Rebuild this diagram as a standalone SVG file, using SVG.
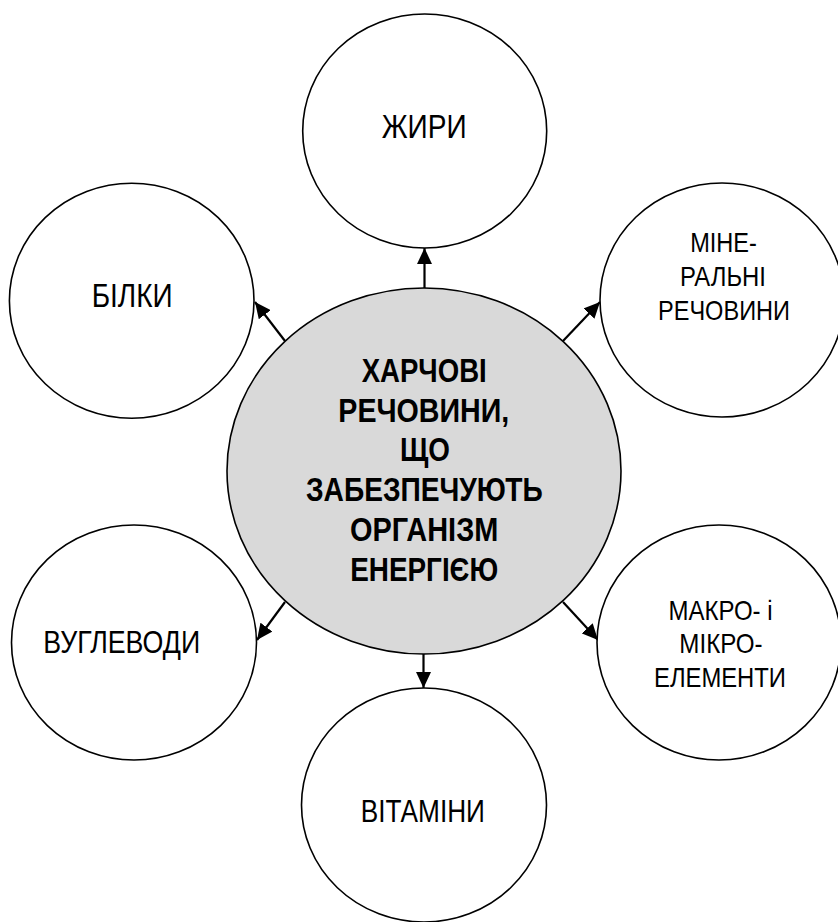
<svg xmlns="http://www.w3.org/2000/svg" width="838" height="922" viewBox="0 0 838 922">
<style>
.node{fill:#ffffff;stroke:#000000;stroke-width:1.6}
.center{fill:#d9d9d9;stroke:#000000;stroke-width:1.6}
.lbl{font-family:"Liberation Sans Narrow","Liberation Sans",Arial,sans-serif;fill:#000000;text-anchor:middle}
.b{font-weight:bold;font-size:33px}
.edge{stroke:#000000;stroke-width:2.2;fill:none;marker-end:url(#ah)}
</style>
<defs>
<marker id="ah" markerUnits="userSpaceOnUse" markerWidth="16" markerHeight="15" refX="16" refY="7.5" orient="auto" viewBox="0 0 16 15">
<path d="M0,0 L16,7.5 L0,15 z" fill="#000000"/>
</marker>
</defs>
<rect width="838" height="922" fill="#ffffff"/>
<g id="connectors">
<line class="edge" x1="424.5" y1="289" x2="424.5" y2="248"/>
<line class="edge" x1="423.5" y1="654" x2="423.5" y2="688"/>
<line class="edge" x1="285" y1="341" x2="255" y2="302"/>
<line class="edge" x1="563" y1="341" x2="600" y2="302"/>
<line class="edge" x1="285" y1="602" x2="257" y2="640"/>
<line class="edge" x1="563" y1="602" x2="598" y2="640"/>
</g>
<g id="node-center">
<ellipse class="center" cx="424" cy="471" rx="197" ry="183"/>
<text class="lbl b" x="424.2" y="381.7" textLength="125" lengthAdjust="spacingAndGlyphs">ХАРЧОВІ</text>
<text class="lbl b" x="423.8" y="421.7" textLength="171" lengthAdjust="spacingAndGlyphs">РЕЧОВИНИ,</text>
<text class="lbl b" x="425" y="460.5" textLength="50" lengthAdjust="spacingAndGlyphs">ЩО</text>
<text class="lbl b" x="424.3" y="500.7" textLength="236.7" lengthAdjust="spacingAndGlyphs">ЗАБЕЗПЕЧУЮТЬ</text>
<text class="lbl b" x="424.2" y="540.5" textLength="148.3" lengthAdjust="spacingAndGlyphs">ОРГАНІЗМ</text>
<text class="lbl b" x="424.2" y="580.7" textLength="148" lengthAdjust="spacingAndGlyphs">ЕНЕРГІЄЮ</text>
</g>
<g id="node-zhyry">
<ellipse class="node" cx="424.7" cy="131" rx="122" ry="117"/>
<text class="lbl" style="font-size:32.5px" x="424.2" y="137.5" textLength="85" lengthAdjust="spacingAndGlyphs">ЖИРИ</text>
</g>
<g id="node-bilky">
<ellipse class="node" cx="131.7" cy="300.7" rx="122.3" ry="117.5"/>
<text class="lbl" style="font-size:32.5px" x="132.2" y="306.7" textLength="81" lengthAdjust="spacingAndGlyphs">БІЛКИ</text>
</g>
<g id="node-mineralni">
<ellipse class="node" cx="722" cy="300" rx="122" ry="117"/>
<text class="lbl" style="font-size:28px" x="723.5" y="251.5" textLength="66.7" lengthAdjust="spacingAndGlyphs">МІНЕ-</text>
<text class="lbl" style="font-size:28px" x="723" y="285.5" textLength="86" lengthAdjust="spacingAndGlyphs">РАЛЬНІ</text>
<text class="lbl" style="font-size:28px" x="724" y="319.5" textLength="132" lengthAdjust="spacingAndGlyphs">РЕЧОВИНИ</text>
</g>
<g id="node-vuhlevody">
<ellipse class="node" cx="134" cy="642.5" rx="122.5" ry="117.5"/>
<text class="lbl" style="font-size:31px" x="121.7" y="653" textLength="157" lengthAdjust="spacingAndGlyphs">ВУГЛЕВОДИ</text>
</g>
<g id="node-makro">
<ellipse class="node" cx="719" cy="642.5" rx="122" ry="117.5"/>
<text class="lbl" style="font-size:28px" x="720.5" y="620" textLength="104" lengthAdjust="spacingAndGlyphs">МАКРО- і</text>
<text class="lbl" style="font-size:28px" x="721" y="653.3" textLength="83.3" lengthAdjust="spacingAndGlyphs">МІКРО-</text>
<text class="lbl" style="font-size:28px" x="720" y="686.7" textLength="132" lengthAdjust="spacingAndGlyphs">ЕЛЕМЕНТИ</text>
</g>
<g id="node-vitaminy">
<ellipse class="node" cx="424" cy="805" rx="122.5" ry="117"/>
<text class="lbl" style="font-size:31px" x="422.8" y="821.7" textLength="124.3" lengthAdjust="spacingAndGlyphs">ВІТАМІНИ</text>
</g>
</svg>
